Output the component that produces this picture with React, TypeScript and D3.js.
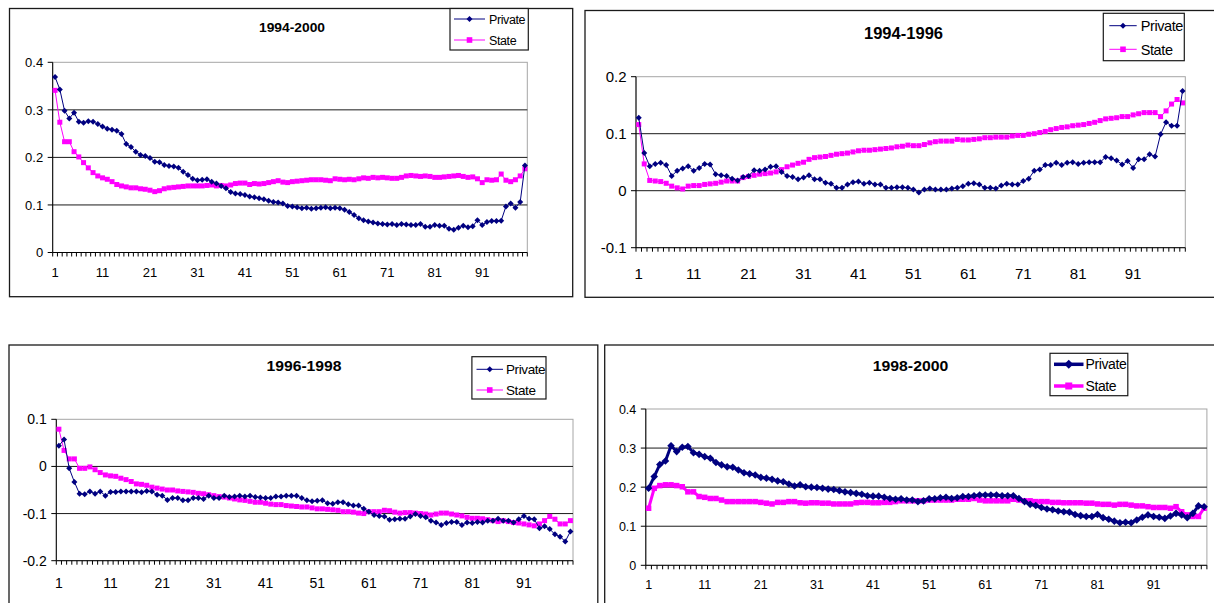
import React from "react";
import * as d3 from "d3";

// ---------- DATA ----------
const categories: number[] = d3.range(1, 101);
const xTickLabels: number[] = [1, 11, 21, 31, 41, 51, 61, 71, 81, 91];
const seriesNames = ["Private", "State"];
const panelTitles = ["1994-2000", "1994-1996", "1996-1998", "1998-2000"];
const yTicks9400 = [0, 0.1, 0.2, 0.3, 0.4];
const yTicks9496 = [-0.1, 0, 0.1, 0.2];
const yTicks9698 = [-0.2, -0.1, 0, 0.1];
const yTicks9800 = [0, 0.1, 0.2, 0.3, 0.4];

const private9400 = [
  0.369, 0.343, 0.298, 0.282, 0.294, 0.275, 0.273, 0.276, 0.275, 0.27,
  0.265, 0.26, 0.258, 0.256, 0.249, 0.228, 0.222, 0.212, 0.205, 0.203,
  0.199, 0.191, 0.19, 0.184, 0.182, 0.181, 0.178, 0.17, 0.163, 0.155,
  0.152, 0.153, 0.154, 0.149, 0.145, 0.14, 0.135, 0.127, 0.124, 0.123,
  0.121, 0.118, 0.116, 0.114, 0.112, 0.109, 0.106, 0.105, 0.103, 0.098,
  0.097, 0.095, 0.093, 0.094, 0.092, 0.093, 0.094, 0.095, 0.093, 0.094,
  0.093, 0.09, 0.085, 0.079, 0.072, 0.068, 0.065, 0.063, 0.061, 0.06,
  0.059, 0.06, 0.058, 0.06, 0.059, 0.058, 0.058, 0.06, 0.054, 0.054,
  0.058, 0.056, 0.056, 0.05, 0.048, 0.052, 0.056, 0.053, 0.055, 0.068,
  0.058, 0.064, 0.066, 0.066, 0.067, 0.097, 0.103, 0.094, 0.106, 0.183,
];
const state9400 = [
  0.341, 0.274, 0.233, 0.233, 0.212, 0.201, 0.189, 0.178, 0.168, 0.161,
  0.157, 0.154, 0.149, 0.143, 0.14, 0.138, 0.136, 0.136, 0.134, 0.133,
  0.131, 0.128, 0.13, 0.134, 0.136, 0.137, 0.138, 0.139, 0.14, 0.14,
  0.14, 0.14, 0.141, 0.142, 0.14, 0.141, 0.14, 0.142, 0.145, 0.146,
  0.146, 0.143, 0.145, 0.144, 0.145, 0.147, 0.149, 0.151, 0.148, 0.147,
  0.149, 0.15, 0.151, 0.152, 0.153, 0.153, 0.153, 0.152, 0.151, 0.155,
  0.154, 0.153, 0.154, 0.153, 0.155, 0.157, 0.156, 0.158, 0.157, 0.158,
  0.157, 0.156, 0.156, 0.158, 0.161, 0.162, 0.161, 0.16, 0.161, 0.16,
  0.158, 0.158, 0.159, 0.16, 0.161, 0.162, 0.16, 0.158, 0.159, 0.155,
  0.147, 0.153, 0.152, 0.153, 0.165, 0.152, 0.149, 0.153, 0.161, 0.176,
];
const private9496 = [
  0.128, 0.066, 0.043, 0.047, 0.049, 0.045, 0.026, 0.035, 0.039, 0.043,
  0.035, 0.04, 0.047, 0.046, 0.029, 0.027, 0.026, 0.021, 0.018, 0.024,
  0.026, 0.036, 0.035, 0.037, 0.042, 0.043, 0.033, 0.026, 0.024, 0.02,
  0.023, 0.027, 0.02, 0.02, 0.014, 0.012, 0.005, 0.005, 0.011, 0.015,
  0.016, 0.012, 0.014, 0.011, 0.011, 0.005, 0.005, 0.006, 0.006, 0.005,
  0.002, -0.003, 0.002, 0.004, 0.002, 0.002, 0.002, 0.004, 0.005, 0.008,
  0.012, 0.013, 0.011, 0.005, 0.005, 0.004, 0.009, 0.012, 0.011, 0.011,
  0.017, 0.021, 0.035, 0.037, 0.045, 0.045, 0.049, 0.045, 0.049, 0.05,
  0.047, 0.049, 0.05, 0.05, 0.05, 0.059, 0.057, 0.053, 0.046, 0.052,
  0.04, 0.055, 0.055, 0.064, 0.06, 0.099, 0.12, 0.114, 0.114, 0.175,
];
const state9496 = [
  0.116, 0.047, 0.018, 0.017, 0.016, 0.013, 0.008, 0.005, 0.003, 0.008,
  0.009, 0.009, 0.011, 0.012, 0.013, 0.015, 0.017, 0.017, 0.017, 0.023,
  0.025, 0.027, 0.029, 0.03, 0.031, 0.033, 0.037, 0.042, 0.045, 0.048,
  0.05, 0.055, 0.058, 0.059, 0.06, 0.062, 0.064, 0.065, 0.066, 0.068,
  0.07, 0.071, 0.071, 0.072, 0.073, 0.074, 0.075, 0.077, 0.078, 0.08,
  0.079, 0.079, 0.081, 0.084, 0.086, 0.087, 0.087, 0.087, 0.09, 0.089,
  0.089, 0.09, 0.091, 0.093, 0.093, 0.094, 0.094, 0.094, 0.096, 0.097,
  0.097, 0.099, 0.1, 0.102, 0.104, 0.107, 0.109, 0.111, 0.112, 0.114,
  0.115, 0.116, 0.118, 0.12, 0.123, 0.126, 0.127, 0.128, 0.13, 0.13,
  0.133, 0.135, 0.137, 0.137, 0.137, 0.13, 0.14, 0.152, 0.16, 0.154,
];
const private9698 = [
  0.044, 0.057, -0.004, -0.033, -0.058, -0.059, -0.053, -0.058, -0.053, -0.062,
  -0.054, -0.054, -0.053, -0.053, -0.053, -0.053, -0.055, -0.052, -0.053, -0.06,
  -0.062, -0.071, -0.067, -0.067, -0.072, -0.072, -0.067, -0.067, -0.069, -0.062,
  -0.067, -0.067, -0.062, -0.065, -0.064, -0.062, -0.064, -0.062, -0.065, -0.066,
  -0.067, -0.067, -0.064, -0.064, -0.062, -0.062, -0.062, -0.067, -0.072, -0.074,
  -0.073, -0.072, -0.078, -0.079, -0.076, -0.076, -0.08, -0.083, -0.083, -0.09,
  -0.096, -0.103, -0.105, -0.106, -0.113, -0.112, -0.111, -0.111, -0.106, -0.101,
  -0.105, -0.108, -0.115, -0.119, -0.124, -0.12, -0.118, -0.118, -0.124, -0.119,
  -0.12, -0.118, -0.119, -0.115, -0.115, -0.111, -0.115, -0.115, -0.119, -0.112,
  -0.105, -0.111, -0.112, -0.131, -0.127, -0.133, -0.144, -0.149, -0.159, -0.138,
];
const state9698 = [
  0.079, 0.034, 0.016, 0.016, -0.004, -0.004, -0.001, -0.007, -0.013, -0.018,
  -0.02, -0.021, -0.025, -0.028, -0.032, -0.037, -0.038, -0.04, -0.044, -0.046,
  -0.048, -0.05, -0.05, -0.052, -0.053, -0.054, -0.055, -0.057, -0.058, -0.06,
  -0.062, -0.064, -0.065, -0.067, -0.069, -0.071, -0.072, -0.074, -0.076, -0.076,
  -0.078, -0.08, -0.081, -0.081, -0.083, -0.084, -0.085, -0.086, -0.086, -0.088,
  -0.09, -0.09, -0.091, -0.092, -0.093, -0.096, -0.096, -0.097, -0.099, -0.1,
  -0.096, -0.096, -0.096, -0.093, -0.094, -0.097, -0.099, -0.098, -0.098, -0.099,
  -0.1, -0.101, -0.103, -0.101, -0.099, -0.099, -0.101, -0.103, -0.105, -0.108,
  -0.11, -0.11, -0.111, -0.113, -0.115, -0.117, -0.115, -0.117, -0.119, -0.12,
  -0.122, -0.124, -0.126, -0.122, -0.115, -0.106, -0.112, -0.122, -0.122, -0.115,
];
const private9800 = [
  0.197, 0.227, 0.258, 0.267, 0.306, 0.291, 0.302, 0.304, 0.288, 0.284,
  0.278, 0.274, 0.263, 0.257, 0.252, 0.251, 0.244, 0.237, 0.234, 0.231,
  0.225, 0.223, 0.22, 0.216, 0.214, 0.208, 0.203, 0.206, 0.201, 0.2,
  0.199, 0.197, 0.195, 0.194, 0.191, 0.188, 0.186, 0.184, 0.182, 0.178,
  0.177, 0.177, 0.174, 0.171, 0.169, 0.17, 0.167, 0.167, 0.163, 0.165,
  0.17, 0.17, 0.173, 0.174, 0.171, 0.173, 0.176, 0.176, 0.178, 0.18,
  0.18, 0.18, 0.18, 0.178, 0.178, 0.178, 0.171, 0.163, 0.156, 0.153,
  0.148, 0.144, 0.142, 0.139, 0.137, 0.136, 0.13, 0.127, 0.125, 0.125,
  0.13, 0.122, 0.118, 0.113, 0.109, 0.11, 0.109, 0.116, 0.123, 0.129,
  0.125, 0.123, 0.12, 0.126, 0.133, 0.129, 0.122, 0.133, 0.152, 0.15,
];
const state9800 = [
  0.146, 0.197, 0.204, 0.206, 0.206, 0.204, 0.201, 0.188, 0.188, 0.176,
  0.174, 0.171, 0.171, 0.167, 0.163, 0.163, 0.163, 0.163, 0.163, 0.163,
  0.161, 0.159, 0.157, 0.161, 0.161, 0.163, 0.163, 0.16, 0.159, 0.16,
  0.16, 0.159, 0.159, 0.157, 0.157, 0.157, 0.157, 0.16, 0.161, 0.161,
  0.16, 0.16, 0.161, 0.161, 0.163, 0.165, 0.165, 0.165, 0.165, 0.165,
  0.167, 0.167, 0.167, 0.167, 0.167, 0.169, 0.169, 0.169, 0.171, 0.167,
  0.165, 0.165, 0.165, 0.165, 0.165, 0.169, 0.167, 0.165, 0.165, 0.163,
  0.163, 0.163, 0.161, 0.161, 0.16, 0.16, 0.16, 0.16, 0.159, 0.159,
  0.157, 0.156, 0.156, 0.154, 0.156, 0.156, 0.154, 0.152, 0.152, 0.15,
  0.148, 0.148, 0.148, 0.146, 0.15, 0.137, 0.129, 0.125, 0.125, 0.146,
];

// ---------- LAYOUT ----------
const NAVY = "#000080";
const MAGENTA = "#FF00FF";
const FONT = "'Liberation Sans', Arial, Helvetica, sans-serif";

type PanelCfg = {
  title: string;
  priv: number[];
  state: number[];
  yTicks: number[];
  frame: { x: number; y: number; w: number; h: number };
  plot: { l: number; r: number; t: number; b: number };
  titlePos: { x: number; y: number; size: number; len: number };
  legend: { x: number; y: number; w: number; h: number; rows: number[]; lx0: number; lx1: number; tx: number; size: number };
  tickFont: number;
  xLabelY: number;
  thick: boolean;
};

const panels: PanelCfg[] = [
  {
    title: panelTitles[0], priv: private9400, state: state9400, yTicks: yTicks9400,
    frame: { x: 9.5, y: 8.5, w: 563.2, h: 288.2 },
    plot: { l: 52.7, r: 527.3, t: 62.3, b: 252.5 },
    titlePos: { x: 292, y: 31.5, size: 13.5, len: 66 },
    legend: { x: 450, y: 8.5, w: 78.3, h: 41.5, rows: [19, 40], lx0: 454, lx1: 485, tx: 489, size: 12.5 },
    tickFont: 13, xLabelY: 277.3, thick: false,
  },
  {
    title: panelTitles[1], priv: private9496, state: state9496, yTicks: yTicks9496,
    frame: { x: 585, y: 10.5, w: 660, h: 286.8 },
    plot: { l: 636, r: 1185.3, t: 76.7, b: 247.7 },
    titlePos: { x: 903.5, y: 39.3, size: 16, len: 79 },
    legend: { x: 1103.3, y: 13.3, w: 81, h: 47.4, rows: [25.7, 49.3], lx0: 1109.3, lx1: 1136.7, tx: 1140.7, size: 14.5 },
    tickFont: 15, xLabelY: 279.3, thick: false,
  },
  {
    title: panelTitles[2], priv: private9698, state: state9698, yTicks: yTicks9698,
    frame: { x: 9, y: 345, w: 588.8, h: 300 },
    plot: { l: 56.3, r: 573, t: 419.3, b: 560.7 },
    titlePos: { x: 304, y: 370.7, size: 15, len: 75 },
    legend: { x: 471.9, y: 356.7, w: 74.1, h: 42.3, rows: [369.3, 390], lx0: 476.5, lx1: 503, tx: 506, size: 13.5 },
    tickFont: 14, xLabelY: 588.3, thick: false,
  },
  {
    title: panelTitles[3], priv: private9800, state: state9800, yTicks: yTicks9800,
    frame: { x: 604.7, y: 345, w: 700, h: 300 },
    plot: { l: 645.8, r: 1206.9, t: 409, b: 565.3 },
    titlePos: { x: 910.5, y: 370.7, size: 15.5, len: 75.5 },
    legend: { x: 1050, y: 353.3, w: 77.8, h: 42.4, rows: [364.3, 386], lx0: 1054, lx1: 1083.5, tx: 1085.5, size: 14 },
    tickFont: 12.5, xLabelY: 589.3, thick: true,
  },
];

const fmt = (v: number) => String(+v.toFixed(1));

function diamond(cx: number, cy: number, r: number) {
  return `M${cx},${cy - r}L${cx + r},${cy}L${cx},${cy + r}L${cx - r},${cy}Z`;
}

function Panel({ cfg }: { cfg: PanelCfg }) {
  const { plot, frame, legend, titlePos } = cfg;
  const x = d3.scaleBand<number>().domain(categories).range([plot.l, plot.r]).paddingInner(0).paddingOuter(0);
  const bw = x.bandwidth();
  const cx = (c: number) => (x(c) as number) + bw / 2;
  const yDom = d3.extent(cfg.yTicks) as [number, number];
  const y = d3.scaleLinear().domain(yDom).range([plot.b, plot.t]);
  const line = d3.line<number>().x((_, i) => cx(categories[i])).y((v) => y(v));

  const lw = cfg.thick ? 3 : 1;
  const dr = cfg.thick ? 3.8 : 3;
  const sq = cfg.thick ? 5.5 : 5;

  const tickPositions = [...categories.map((c) => x(c) as number), plot.r];

  return (
    <g>
      <rect x={frame.x} y={frame.y} width={frame.w} height={frame.h} fill="#fff" stroke="#1a1a1a" strokeWidth={1.3} />
      {/* plot area border (top/right grey) */}
      <rect x={plot.l} y={plot.t} width={plot.r - plot.l} height={plot.b - plot.t} fill="#fff" stroke="#a6a6a6" strokeWidth={1} />
      {/* gridlines */}
      {cfg.yTicks.filter((t) => t !== yDom[0] && t !== yDom[1]).map((t) => (
        <line key={t} x1={plot.l} x2={plot.r} y1={y(t)} y2={y(t)} stroke="#1a1a1a" strokeWidth={1} />
      ))}
      {/* axes */}
      <line x1={plot.l} x2={plot.l} y1={plot.t} y2={plot.b} stroke="#000" strokeWidth={1} />
      <line x1={plot.l} x2={plot.r} y1={plot.b} y2={plot.b} stroke="#000" strokeWidth={1} />
      {cfg.yTicks.map((t) => (
        <g key={"yt" + t}>
          <line x1={plot.l - 5} x2={plot.l} y1={y(t)} y2={y(t)} stroke="#000" />
          <text x={plot.l - 9.5} y={y(t)} dy="0.36em" textAnchor="end" fontFamily={FONT} fontSize={cfg.tickFont} fill="#000">
            {fmt(t)}
          </text>
        </g>
      ))}
      {tickPositions.map((p, i) => (
        <line key={"xt" + i} x1={p} x2={p} y1={plot.b} y2={plot.b + 4} stroke="#000" strokeWidth={1} />
      ))}
      {xTickLabels.map((c) => (
        <text key={"xl" + c} x={cx(c)} y={cfg.xLabelY} textAnchor="middle" fontFamily={FONT} fontSize={cfg.tickFont} fill="#000">
          {c}
        </text>
      ))}
      {/* series */}
      <path d={line(cfg.state) || ""} fill="none" stroke={MAGENTA} strokeWidth={lw} />
      {cfg.state.map((v, i) => (
        <rect key={"s" + i} x={cx(categories[i]) - sq / 2} y={y(v) - sq / 2} width={sq} height={sq} fill={MAGENTA} />
      ))}
      <path d={line(cfg.priv) || ""} fill="none" stroke={NAVY} strokeWidth={lw} />
      {cfg.priv.map((v, i) => (
        <path key={"p" + i} d={diamond(cx(categories[i]), y(v), dr)} fill={NAVY} />
      ))}
      {/* title */}
      <text x={titlePos.x} y={titlePos.y} textAnchor="middle" fontFamily={FONT} fontWeight="bold" fontSize={titlePos.size}
        textLength={titlePos.len} lengthAdjust="spacingAndGlyphs" fill="#000">
        {cfg.title}
      </text>
      {/* legend */}
      <rect x={legend.x} y={legend.y} width={legend.w} height={legend.h} fill="#fff" stroke="#1a1a1a" strokeWidth={1.2} />
      {seriesNames.map((name, i) => {
        const ly = legend.rows[i];
        const mx = (legend.lx0 + legend.lx1) / 2;
        const color = i === 0 ? NAVY : MAGENTA;
        return (
          <g key={name}>
            <line x1={legend.lx0} x2={legend.lx1} y1={ly} y2={ly} stroke={color} strokeWidth={cfg.thick ? 3.5 : 1} />
            {i === 0 ? (
              <path d={diamond(mx, ly, cfg.thick ? 4.5 : 3)} fill={NAVY} />
            ) : (
              <rect x={mx - (cfg.thick ? 3.5 : 2.8)} y={ly - (cfg.thick ? 3.5 : 2.8)} width={cfg.thick ? 7 : 5.6} height={cfg.thick ? 7 : 5.6} fill={MAGENTA} />
            )}
            <text x={legend.tx} y={ly} dy="0.36em" fontFamily={FONT} fontSize={legend.size} letterSpacing={-0.4} fill="#000">
              {name}
            </text>
          </g>
        );
      })}
    </g>
  );
}

export default function App() {
  return (
    <svg width={1214} height={603} style={{ position: "absolute", left: 0, top: 0, background: "#fff" }}>
      <rect x={0} y={0} width={1214} height={603} fill="#fff" />
      {panels.map((p) => (
        <Panel key={p.title} cfg={p} />
      ))}
    </svg>
  );
}
